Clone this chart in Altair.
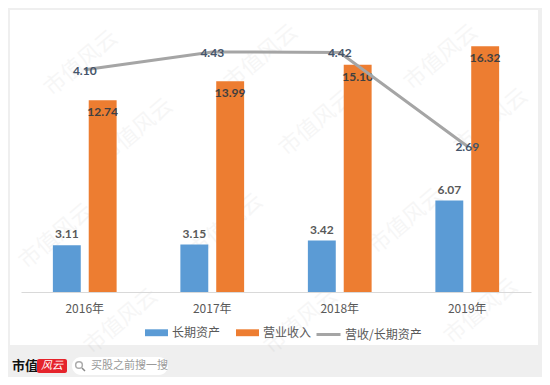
import altair as alt
import pandas as pd

# ---- data ----
years = ["2016年", "2017年", "2018年", "2019年"]
long_assets = [3.11, 3.15, 3.42, 6.07]      # 长期资产
revenue = [12.74, 13.99, 15.10, 16.32]      # 营业收入
ratio = [4.10, 4.43, 4.42, 2.69]            # 营收/长期资产
series_names = ["长期资产", "营业收入"]
line_name = "营收/长期资产"

colors = ["#5B9BD5", "#ED7D31"]
line_color = "#A5A5A5"
FONT = "Lato, 'Noto Sans CJK SC', sans-serif"
CJK = "'Noto Sans CJK SC', Lato, sans-serif"

bars_df = pd.DataFrame({
    "year": years * 2,
    "series": [series_names[0]] * len(years) + [series_names[1]] * len(years),
    "value": long_assets + revenue,
})
bars_df["label"] = bars_df["value"].map(lambda v: f"{v:.2f}")
line_df = pd.DataFrame({"year": years, "ratio": ratio, "metric": [line_name] * len(years)})
line_df["label"] = line_df["ratio"].map(lambda v: f"{v:.2f}")
one = pd.DataFrame({"k": [0]})

x_axis = alt.Axis(labelAngle=0, ticks=False, grid=False, domainColor="#D9D9D9",
                  domainWidth=1, labelColor="#595959", labelFontSize=12,
                  labelPadding=11, labelFont=CJK, zindex=1)
x_enc = alt.X("year:N", sort=years, title=None,
              scale=alt.Scale(paddingInner=0.5, paddingOuter=0.25), axis=x_axis)
x_line = alt.X("year:N", sort=years, bandPosition=0.5, title=None, axis=x_axis)
xoff = alt.XOffset("series:N", sort=series_names,
                   scale=alt.Scale(paddingInner=0.222, paddingOuter=0))
y_bar = alt.Y("value:Q", scale=alt.Scale(domain=[0, 18]), axis=None)
y_line = alt.Y("ratio:Q", scale=alt.Scale(domain=[0, 5]), axis=None)

# white card
card = alt.Chart(one).mark_rect(color="white").encode(
    x=alt.value(-11), x2=alt.value(517), y=alt.value(-11), y2=alt.value(324))

# faint watermarks
wm_pos = [(60, 42), (240, 36), (420, 36), (115, 110), (295, 102), (470, 100),
          (35, 215), (205, 205), (385, 200), (100, 300), (280, 300), (460, 290)]
watermarks = [
    alt.Chart(one).mark_text(text="市值风云", angle=320, fontSize=22, font=CJK,
                             color="#000000", opacity=0.03).encode(
        x=alt.value(px), y=alt.value(py))
    for px, py in wm_pos
]

bars = alt.Chart(bars_df).mark_bar().encode(
    x=x_enc, xOffset=xoff, y=y_bar,
    color=alt.Color("series:N", sort=series_names,
                    scale=alt.Scale(domain=series_names, range=colors),
                    legend=alt.Legend(title=None, orient="none", direction="horizontal",
                                      legendX=124, legendY=300, padding=0,
                                      symbolType="M-1,-0.3H1V0.3H-1Z", symbolSize=529,
                                      symbolStrokeWidth=0, labelFontSize=12,
                                      labelColor="#595959", labelFont=CJK,
                                      columnPadding=15, labelOffset=4)),
)

lab_blue = alt.Chart(bars_df).transform_filter(
    alt.datum.series == series_names[0]).mark_text(
    font=FONT, fontSize=12, fontWeight="bold", color="#595959", baseline="middle", dy=-11
).encode(x=x_enc, xOffset=xoff, y=y_bar, text="label:N")

lab_orange = alt.Chart(bars_df).transform_filter(
    alt.datum.series == series_names[1]).mark_text(
    font=FONT, fontSize=12, fontWeight="bold", color="#404040", baseline="middle", dy=12
).encode(x=x_enc, xOffset=xoff, y=y_bar, text="label:N")

line = alt.Chart(line_df).mark_line(strokeWidth=3).encode(
    x=x_line,
    y=y_line,
    stroke=alt.Stroke("metric:N", scale=alt.Scale(domain=[line_name], range=[line_color]),
                      legend=alt.Legend(title=None, orient="none", legendX=294, legendY=300,
                                        padding=0, symbolType="stroke", symbolSize=576,
                                        symbolStrokeWidth=3, labelFontSize=12,
                                        labelColor="#595959", labelFont=CJK, labelOffset=3)),
)
line_lab = alt.Chart(line_df).mark_text(
    font=FONT, fontSize=12, fontWeight="bold", color="#44546A", baseline="middle", dy=1
).encode(x=x_line, y=y_line, text="label:N")

# footer
f_brand = alt.Chart(one).mark_text(text="市值", font=CJK, fontSize=13, fontWeight="bold",
                                   color="#111111", align="left", baseline="middle").encode(
    x=alt.value(-9), y=alt.value(345))
f_red = alt.Chart(one).mark_rect(color="#E5232B", cornerRadius=2).encode(
    x=alt.value(16), x2=alt.value(46), y=alt.value(338), y2=alt.value(352))
f_red_t = alt.Chart(one).mark_text(text="风云", font=CJK, fontSize=11, fontStyle="italic",
                                   color="white", baseline="middle").encode(
    x=alt.value(31), y=alt.value(345))
f_pill = alt.Chart(one).mark_rect(color="white", cornerRadius=9).encode(
    x=alt.value(51), x2=alt.value(147), y=alt.value(336), y2=alt.value(354))
f_glass = alt.Chart(one).mark_point(shape="circle", filled=False, size=45, color="#8A8A8A",
                                    strokeWidth=1.5).encode(x=alt.value(58), y=alt.value(344))
f_handle = alt.Chart(one).mark_rule(color="#8A8A8A", strokeWidth=1.5).encode(
    x=alt.value(61), y=alt.value(347), x2=alt.value(64), y2=alt.value(350))
f_text = alt.Chart(one).mark_text(text="买股之前搜一搜", font=CJK, fontSize=11,
                                  color="#9A9A9A", align="left", baseline="middle").encode(
    x=alt.value(70), y=alt.value(345))

chart = alt.layer(
    card, *watermarks, bars, lab_blue, lab_orange, line, line_lab,
    f_brand, f_red, f_red_t, f_pill, f_glass, f_handle, f_text,
).resolve_scale(y="independent").properties(
    width=510, height=271,
    autosize=alt.AutoSizeParams(type="none"),
    padding={"left": 13, "top": 13, "right": 11, "bottom": 85},
    background="#EFEFEF",
).configure_view(stroke=None)

chart.save("out.html", embed_options={"renderer": "svg", "actions": False})
